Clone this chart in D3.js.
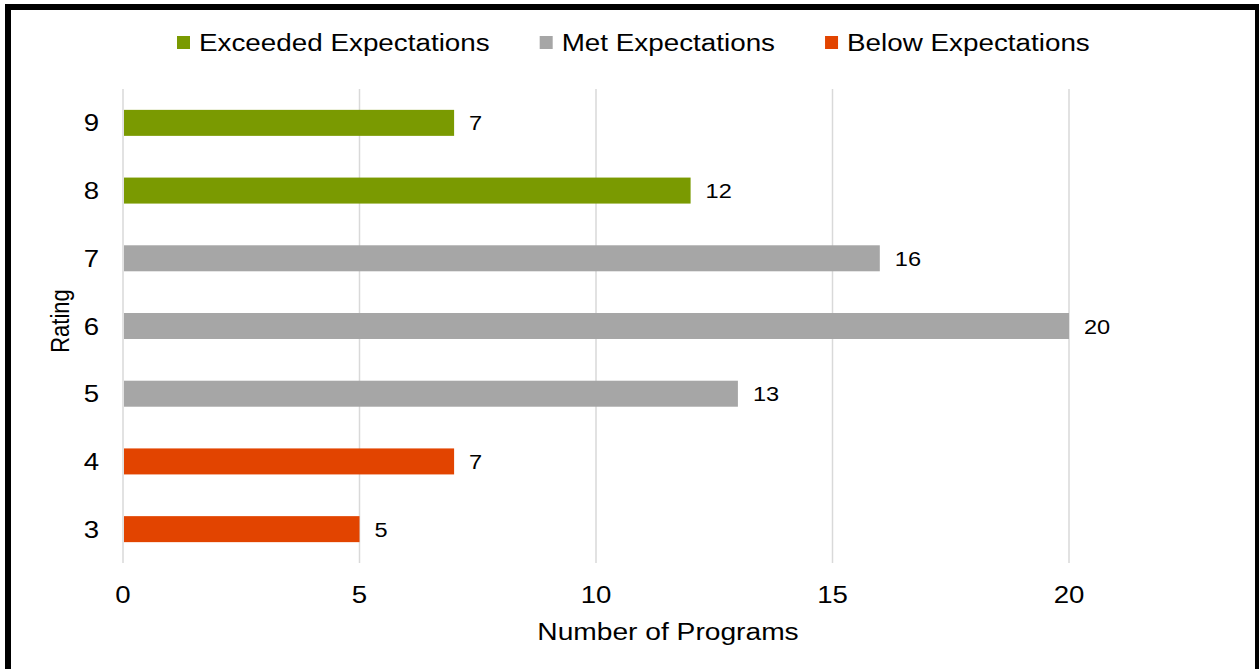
<!DOCTYPE html>
<html>
<head>
<meta charset="utf-8">
<script src="https://cdn.jsdelivr.net/npm/d3@7"></script>
<style>
  body { margin: 0; background: #fff; }
  text { font-family: Arial, "Liberation Sans", sans-serif; fill: #000; }
</style>
</head>
<body>
<div id="chart"></div>
<script>
// Chart data
const ratings = ["9", "8", "7", "6", "5", "4", "3"];
const programs = [7, 12, 16, 20, 13, 7, 5];
const groups = ["Exceeded", "Exceeded", "Met", "Met", "Met", "Below", "Below"];
const legendKeys = ["Exceeded", "Met", "Below"];
const legendLabels = ["Exceeded Expectations", "Met Expectations", "Below Expectations"];
const xTicks = [0, 5, 10, 15, 20];

const W = 1259, H = 669;
const SX = 1.15; // the reference text is a bit wide

const color = d3.scaleOrdinal()
    .domain(legendKeys)
    .range(["#7A9A01", "#A6A6A6", "#E24400"]);

const svg = d3.select("#chart").append("svg")
    .attr("width", W)
    .attr("height", H);

// frame
svg.append("rect")
    .attr("x", 8).attr("y", 7)
    .attr("width", 1250).attr("height", 720)
    .attr("fill", "#fff")
    .attr("stroke", "#000")
    .attr("stroke-width", 6);

const x = d3.scaleLinear().domain([0, 20]).range([123, 1069]);
const y = d3.scaleBand().domain(ratings).range([89, 563])
    .paddingInner(0.616).paddingOuter(0.308);

// place text with a slight horizontal stretch
function addText(g, tx, ty, str, size, anchor) {
    return g.append("text")
        .attr("transform", `translate(${tx},${ty}) scale(${SX},1)`)
        .attr("text-anchor", anchor || "start")
        .style("font-size", size + "px")
        .text(str);
}

// gridlines
svg.append("g").selectAll("line")
    .data(xTicks)
    .enter().append("line")
    .attr("x1", d => x(d)).attr("x2", d => x(d))
    .attr("y1", 89).attr("y2", 563)
    .attr("stroke", "#d9d9d9")
    .attr("stroke-width", 1.5);

// bars
const data = ratings.map((r, i) => ({rating: r, value: programs[i], group: groups[i]}));

svg.append("g").selectAll("rect")
    .data(data)
    .enter().append("rect")
    .attr("x", x(0) + 1)
    .attr("y", d => y(d.rating))
    .attr("width", d => x(d.value) - x(0) - 1)
    .attr("height", y.bandwidth())
    .attr("fill", d => color(d.group));

// value labels
const labels = svg.append("g");
data.forEach(d => {
    addText(labels, x(d.value) + 15, y(d.rating) + y.bandwidth() / 2 + 7.5, d.value, 20.5);
});

// y tick labels
const yLab = svg.append("g");
ratings.forEach(r => {
    addText(yLab, 99, y(r) + y.bandwidth() / 2 + 8.5, r, 24, "end");
});

// x tick labels
const xLab = svg.append("g");
xTicks.forEach(t => {
    addText(xLab, x(t), 603, t, 24, "middle");
});

// axis titles
addText(svg, 668, 640, "Number of Programs", 24.5, "middle");
svg.append("text")
    .attr("transform", `translate(69,321) scale(${SX},1) rotate(-90)`)
    .attr("text-anchor", "middle")
    .style("font-size", "22px")
    .text("Rating");

// legend
const legend = svg.append("g");
let lx = 177;
legendKeys.forEach((k, i) => {
    legend.append("rect")
        .attr("x", lx).attr("y", 36)
        .attr("width", 13).attr("height", 13)
        .attr("fill", color(k));
    const t = addText(legend, lx + 22, 51, legendLabels[i], 24.2);
    lx += 22 + t.node().getComputedTextLength() * SX + 50;
});
</script>
</body>
</html>
